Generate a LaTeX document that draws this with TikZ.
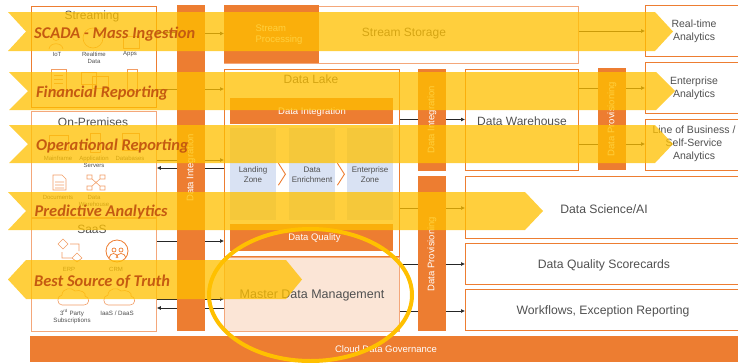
\documentclass[tikz,border=0pt]{standalone}
\usepackage{fontspec}
\setmainfont{Liberation Sans}
\newfontfamily\bannerfont{Carlito}
\usetikzlibrary{arrows.meta,shapes.geometric}
\definecolor{org}{HTML}{ED7D31}
\definecolor{orgl}{HTML}{F4A77A}
\definecolor{gold}{HTML}{FFC000}
\definecolor{bantext}{HTML}{C55A11}
\definecolor{txt}{HTML}{505050}
\definecolor{zone}{HTML}{D9E2F3}
\definecolor{mdm}{HTML}{FBE5D6}
\tikzset{
  frame/.style={draw=org,line width=0.8pt,fill=none},
  solid bar/.style={fill=org,draw=none},
  bar text/.style={text=white,font=\fontsize{9.5}{11}\selectfont},
  box text/.style={text=txt,align=center,yshift=-1.5pt,font=\fontsize{12.2}{14}\selectfont},
  side text/.style={text=txt,align=center,font=\fontsize{10.5}{13}\selectfont},
  zone text/.style={text=txt,align=center,font=\fontsize{8}{10}\selectfont},
  head text/.style={text=txt,font=\fontsize{12}{14}\selectfont},
  icon label/.style={text=txt,align=center,font=\fontsize{6}{7}\selectfont},
  icon/.style={draw=org!75,line width=0.6pt,fill=none},
  plain line/.style={draw=black!85,line width=0.7pt},
  conn/.style={draw=black!85,line width=0.7pt,-{Latex[length=4pt,width=4pt]}},
  banner/.style={fill=gold,fill opacity=0.76,draw=none},
  banner text/.style={text=bantext,yshift=-1.5pt,font=\bannerfont\bfseries\itshape\fontsize{16.4}{18}\selectfont,anchor=west,inner sep=0pt},
  chev/.style={draw=org,line width=0.9pt,fill=none},
}
\begin{document}
\begin{tikzpicture}[x=1pt,y=-1pt]
\useasboundingbox (0,0) rectangle (738,362);
\coordinate (sR1) at (224,33.5);
% source frames
\node[frame,minimum width=125.5pt,minimum height=101pt,anchor=north west,inner sep=0pt] (stream) at (30.5,5.5) {};
\node[frame,draw=orgl,minimum width=125.5pt,minimum height=106pt,anchor=north west,inner sep=0pt] (prem) at (30.5,111) {};
\node[frame,draw=orgl,minimum width=125.5pt,minimum height=113pt,anchor=north west,inner sep=0pt] (saas) at (30.5,218) {};
\node[head text] (tstream) at (92,16) {Streaming};
\node[head text] (tprem) at (93,122) {On-Premises};
\node[head text] (tsaas) at (92,229) {SaaS};
% icons row 1
\draw[icon] (56,37) circle (3.5) (49,49) .. controls (50,42) and (62,42) .. (63,49);
\draw[icon] (93,38) circle (10);
\draw[icon] (123,36) rectangle (139,48);
\node[icon label] (l1) at (57,54) {IoT};
\node[icon label] (l2) at (94,57.5) {Realtime\\Data};
\node[icon label] (l3) at (130,54) {Apps};
% icons row 2
\draw[icon] (51,69) rectangle (66,90) (54,75) -- (63,75) (54,79) -- (63,79) (54,83) -- (63,83);
\draw[icon] (81,72) rectangle (96,84) (92,76) rectangle (108,88);
\draw[icon] (127,69) rectangle (137,91);
% icons row 3
\draw[icon] (49,135) rectangle (68,150);
\draw[icon] (90,133) rectangle (100,152);
\draw[icon] (122,133) rectangle (139,150);
\node[icon label] (l7) at (58,158) {Mainframe};
\node[icon label] (l8) at (94,161.5) {Application\\Servers};
\node[icon label] (l9) at (130,158) {Databases};
% icons row 4
\draw[icon] (53,175) -- (62,175) -- (66,179) -- (66,190) -- (53,190) -- cycle (55,182) -- (64,182) (55,185) -- (64,185) (55,188) -- (64,188);
\draw[icon] (87,175) rectangle (92,179) (100,175) rectangle (105,179) (87,186) rectangle (92,190) (100,186) rectangle (105,190) (92,179) -- (100,186) (100,179) -- (92,186);
\node[icon label] (l10) at (58,197) {Documents};
\node[icon label] (l11) at (94,200.5) {Data\\Warehouse};
% icons row 5
\draw[icon] (58,244) -- (63,249) -- (68,244) -- (63,239) -- cycle (72,258) -- (77,262) -- (82,258) -- (77,253) -- cycle (70,244) -- (79,244) -- (79,251) (72,258) -- (62,258) -- (62,252);
\draw[draw=org,line width=0.8pt] (117,251) circle (11);
\draw[draw=org,line width=0.7pt] (114,250) circle (2) (121,250) circle (2) (109,258) .. controls (110,252) and (117,252) .. (118,258) (116,258) .. controls (117,252) and (125,252) .. (126,258);
\node[icon label] (l12) at (69,269) {ERP};
\node[icon label] (l13) at (116,269) {CRM};
\draw[icon] (62,305) .. controls (57,305) and (56,296) .. (62,295) .. controls (62,288) and (72,287) .. (75,291) .. controls (80,289) and (87,293) .. (85,296) .. controls (90,297) and (90,305) .. (84,305) -- cycle;
\draw[icon] (108,305) .. controls (103,305) and (102,296) .. (108,295) .. controls (108,288) and (118,287) .. (121,291) .. controls (126,289) and (133,293) .. (131,296) .. controls (136,297) and (136,305) .. (130,305) -- cycle;
\node[icon label,font=\fontsize{6.2}{7.5}\selectfont] (l14) at (72,317) {3\textsuperscript{rd} Party\\Subscriptions};
\node[icon label,font=\fontsize{6.2}{7.5}\selectfont] (l15) at (117,313.5) {IaaS / DaaS};
% vertical bars
\node[solid bar,minimum width=28pt,minimum height=326pt,anchor=north west,inner sep=0pt] (di1) at (177,5) {};
\node[bar text,rotate=90] (tdi1) at (191,168) {Data Integration};
\node[solid bar,minimum width=28pt,minimum height=102pt,anchor=north west,inner sep=0pt] (di2) at (418,69) {};
\node[bar text,rotate=90] (tdi2) at (432,120) {Data Integration};
\node[solid bar,minimum width=28pt,minimum height=155pt,anchor=north west,inner sep=0pt] (dp1) at (418,176) {};
\node[bar text,rotate=90] (tdp1) at (432,254) {Data Provisioning};
\node[solid bar,minimum width=28pt,minimum height=102pt,anchor=north west,inner sep=0pt] (dp2) at (598,68) {};
\node[bar text,rotate=90] (tdp2) at (612,119) {Data Provisioning};
% stream row
\node[frame,draw=orgl,minimum width=354pt,minimum height=57.5pt,anchor=north west,inner sep=0pt] (sstore) at (224,5.5) {};
\node[solid bar,minimum width=95pt,minimum height=58pt,anchor=north west,inner sep=0pt] (sproc) at (224,5) {};
\node[bar text,align=left,anchor=west] (tsproc) at (252,35) {Stream\\Processing};
\node[head text] (tsstore) at (404,34) {Stream Storage};
% data lake
\node[frame,minimum width=175pt,minimum height=187pt,anchor=north west,inner sep=0pt] (lake) at (224,68.5) {};
\node[head text] (tlake) at (311,79) {Data Lake};
\node[solid bar,minimum width=163pt,minimum height=26pt,anchor=north west,inner sep=0pt] (dint) at (230,98) {};
\node[bar text] (tdint) at (312,112) {Data Integration};
\node[fill=zone,minimum width=46pt,minimum height=92pt,anchor=north west,inner sep=0pt] (z1) at (230,128) {};
\node[fill=zone,minimum width=46pt,minimum height=92pt,anchor=north west,inner sep=0pt] (z2) at (289,128) {};
\node[fill=zone,minimum width=46pt,minimum height=92pt,anchor=north west,inner sep=0pt] (z3) at (347,128) {};
\node[zone text] (tz1) at (253,175) {Landing\\Zone};
\node[zone text] (tz2) at (312,175) {Data\\Enrichment};
\node[zone text] (tz3) at (370,175) {Enterprise\\Zone};
\draw[chev] (z1.east)++(2,-11) -- ++(7,11) -- ++(-7,11);
\draw[chev] (z2.east)++(2,-11) -- ++(7,11) -- ++(-7,11);
\node[solid bar,minimum width=163pt,minimum height=27pt,anchor=north west,inner sep=0pt] (dq) at (230,224) {};
\node[bar text] (tdq) at (314.5,238.5) {Data Quality};
\node[fill=mdm,draw=orgl,line width=1pt,minimum width=175pt,minimum height=74pt,anchor=north west,inner sep=0pt] (mdmb) at (224,257) {};
\node[box text,font=\fontsize{12.5}{14}\selectfont] (tmdm) at (312,294) {Master Data Management};
% targets
\node[frame,minimum width=113pt,minimum height=101pt,anchor=north west,inner sep=0pt] (dw) at (465,68.5) {};
\node[box text,font=\fontsize{12}{14}\selectfont] (tdw) at (522,119.5) {Data Warehouse};
\node[frame,minimum width=100pt,minimum height=51pt,anchor=north west,inner sep=0pt] (rt) at (645,5) {};
\node[side text] (trt) at (694,31.5) {Real-time\\Analytics};
\node[frame,minimum width=100pt,minimum height=51pt,anchor=north west,inner sep=0pt] (ent) at (645,62) {};
\node[side text] (tent) at (694,88) {Enterprise\\Analytics};
\node[frame,minimum width=100pt,minimum height=51pt,anchor=north west,inner sep=0pt] (lob) at (645,119) {};
\node[side text] (tlob) at (694,144) {Line of Business /\\Self-Service\\Analytics};
\node[frame,minimum width=280pt,minimum height=62pt,anchor=north west,inner sep=0pt] (dsai) at (465,176) {};
\node[box text] (tdsai) at (604,208) {Data Science/AI};
\node[frame,minimum width=280pt,minimum height=41pt,anchor=north west,inner sep=0pt] (dqs) at (465,243) {};
\node[box text] (tdqs) at (604,263.5) {Data Quality Scorecards};
\node[frame,minimum width=280pt,minimum height=41pt,anchor=north west,inner sep=0pt] (wf) at (465,289) {};
\node[box text] (twf) at (603,309.5) {Workflows, Exception Reporting};
% governance
\node[solid bar,minimum width=708pt,minimum height=26pt,anchor=north west,inner sep=0pt] (gov) at (30,336) {};
\node[bar text] (tgov) at (386,349) {Cloud Data Governance};
% connectors
\draw[conn] (di1.east |- sR1) -- (sproc.west |- sR1);
\draw[conn] (di1.east |- 0,89) -- (lake.west |- 0,89);
\draw[conn] (di1.east |- 0,160) -- (lake.west |- 0,160);
\draw[plain line] (lake.west |- 0,168) -- (di1.east |- 0,168);
\draw[conn] (di1.west |- 0,168) -- (prem.east |- 0,168);
\draw[plain line] (stream.east |- 0,32) -- (di1.west |- 0,32);
\draw[plain line] (stream.east |- 0,89) -- (di1.west |- 0,89);
\draw[plain line] (prem.east |- 0,160) -- (di1.west |- 0,160);
\draw[plain line] (saas.east |- 0,241) -- (di1.west |- 0,241);
\draw[conn] (di1.east |- 0,241) -- (lake.west |- 0,241);
\draw[plain line] (saas.east |- 0,299) -- (di1.west |- 0,299);
\draw[conn] (di1.east |- 0,299) -- (mdmb.west |- 0,299);
\draw[plain line] (mdmb.west |- 0,308) -- (di1.east |- 0,308);
\draw[conn] (di1.west |- 0,308) -- (saas.east |- 0,308);
\draw[plain line] (lake.east |- 0,119.5) -- (di2.west |- 0,119.5);
\draw[conn] (di2.east |- 0,119.5) -- (dw.west |- 0,119.5);
\draw[plain line] (lake.east |- 0,208) -- (dp1.west |- 0,208);
\draw[conn] (dp1.east |- 0,208) -- (dsai.west |- 0,208);
\draw[plain line] (mdmb.east |- 0,264) -- (dp1.west |- 0,264);
\draw[conn] (dp1.east |- 0,264) -- (dqs.west |- 0,264);
\draw[plain line] (mdmb.east |- 0,311) -- (dp1.west |- 0,311);
\draw[conn] (dp1.east |- 0,311) -- (wf.west |- 0,311);
\draw[conn] (sstore.east |- 0,31) -- (rt.west |- 0,31);
\draw[plain line] (dw.east |- 0,88) -- (dp2.west |- 0,88);
\draw[conn] (dp2.east |- 0,88) -- (ent.west |- 0,88);
\draw[plain line] (dw.east |- 0,144) -- (dp2.west |- 0,144);
\draw[conn] (dp2.east |- 0,144) -- (lob.west |- 0,144);
% banners
\path[banner] (8,12) -- (655,12) -- (673,31.5) -- (655,51) -- (8,51) -- (26,31.5) -- cycle;
\path[banner] (9,72) -- (656,72) -- (675,91) -- (656,110) -- (9,110) -- (28,91) -- cycle;
\path[banner] (9,125) -- (655,125) -- (673,144) -- (655,163) -- (9,163) -- (28,144) -- cycle;
\path[banner] (8,192) -- (525,192) -- (543,211) -- (525,230) -- (8,230) -- (26,211) -- cycle;
\path[banner] (26,260) -- (286,260) -- (302,279.5) -- (286,299) -- (26,299) -- (8,279.5) -- cycle;
% ellipse
\node[ellipse,draw=gold,line width=4pt,minimum width=203pt,minimum height=132pt,inner sep=0pt,fill=none] (ring) at (310.5,295) {};
% banner labels
\node[banner text] (b1) at (34,33) {SCADA - Mass Ingestion};
\node[banner text] (b2) at (36,92) {Financial Reporting};
\node[banner text] (b3) at (36,145) {Operational Reporting};
\node[banner text] (b4) at (34.5,211) {Predictive Analytics};
\node[banner text] (b5) at (34,280) {Best Source of Truth};
\end{tikzpicture}
\end{document}
